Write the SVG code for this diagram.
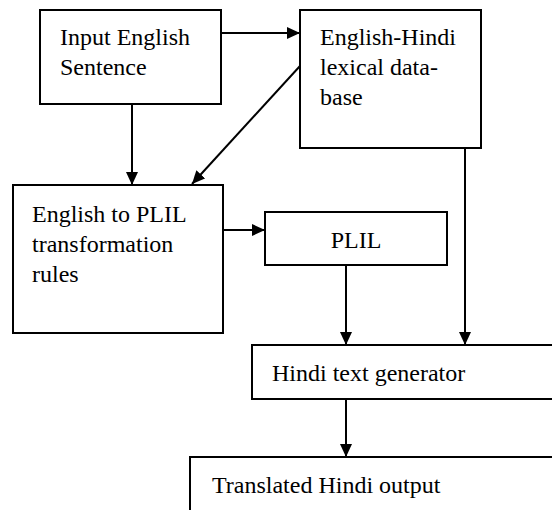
<svg xmlns="http://www.w3.org/2000/svg" width="552" height="510" viewBox="0 0 552 510">
<style>
.box{fill:#fff;stroke:#000;stroke-width:2}
.t{font-family:'Liberation Serif','Times New Roman',serif;font-size:24px;fill:#000}
.c{stroke:#000;stroke-width:2;fill:none}
</style>
<defs>
<marker id="ah" viewBox="0 0 13 12" refX="13" refY="6" markerWidth="13" markerHeight="12" markerUnits="userSpaceOnUse" orient="auto">
<path d="M0,0 L13,6 L0,12 Z" fill="#000"/>
</marker>
</defs>
<rect width="552" height="510" fill="#fff"/>
<g id="connectors">
<line class="c" x1="221" y1="33" x2="300" y2="33" marker-end="url(#ah)"/>
<line class="c" x1="132" y1="104" x2="132" y2="185" marker-end="url(#ah)"/>
<line class="c" x1="300" y1="66" x2="192" y2="184" marker-end="url(#ah)"/>
<line class="c" x1="222" y1="230" x2="265" y2="230" marker-end="url(#ah)"/>
<line class="c" x1="346" y1="265" x2="346" y2="345" marker-end="url(#ah)"/>
<line class="c" x1="465" y1="148" x2="465" y2="345" marker-end="url(#ah)"/>
<line class="c" x1="346" y1="399" x2="346" y2="457" marker-end="url(#ah)"/>
</g>
<g id="input">
<rect class="box" x="40" y="10" width="181" height="94"/>
<text class="t" x="60" y="45">Input English</text>
<text class="t" x="60" y="75">Sentence</text>
</g>
<g id="lexdb">
<rect class="box" x="300" y="10" width="181" height="138"/>
<text class="t" x="320" y="45">English-Hindi</text>
<text class="t" x="320" y="75">lexical data-</text>
<text class="t" x="320" y="105">base</text>
</g>
<g id="rules">
<rect class="box" x="13" y="185" width="210" height="148"/>
<text class="t" x="32" y="222">English to PLIL</text>
<text class="t" x="32" y="252">transformation</text>
<text class="t" x="32" y="282">rules</text>
</g>
<g id="plil">
<rect class="box" x="265" y="212" width="182" height="53"/>
<text class="t" x="356" y="248" text-anchor="middle">PLIL</text>
</g>
<g id="generator">
<rect class="box" x="252" y="345" width="310" height="54"/>
<text class="t" x="272" y="381">Hindi text generator</text>
</g>
<g id="output">
<rect class="box" x="190" y="457" width="372" height="70"/>
<text class="t" x="212" y="493">Translated Hindi output</text>
</g>
</svg>
